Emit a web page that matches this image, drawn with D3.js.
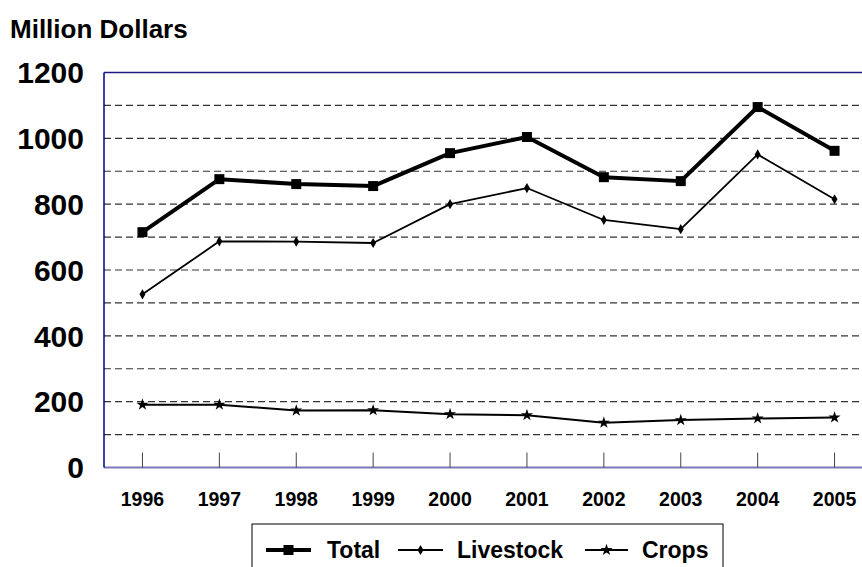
<!DOCTYPE html>
<html>
<head>
<meta charset="utf-8">
<script src="https://cdn.jsdelivr.net/npm/d3@7"></script>
<style>
  body { margin: 0; background: #fff; }
  svg { display: block; font-family: "Liberation Sans", Arial, sans-serif; font-weight: bold; }
</style>
</head>
<body>
<svg id="chart" width="862" height="567"></svg>
<script>
// chart data
const years = ["1996", "1997", "1998", "1999", "2000", "2001", "2002", "2003", "2004", "2005"];
const total = [715, 876, 861, 855, 955, 1004, 882, 870, 1095, 962];
const livestock = [526, 687, 686, 682, 800, 849, 752, 724, 951, 815];
const crops = [191, 191, 173, 174, 162, 159, 136, 144, 149, 152];
const yTicks = [0, 200, 400, 600, 800, 1000, 1200];
const gridValues = [100, 200, 300, 400, 500, 600, 700, 800, 900, 1000, 1100];

(function () {
  const svg = d3.select("#chart");

  // plot area
  const plotLeft = 104, plotTop = 72.5, plotBottom = 467.5;
  const x = d3.scaleBand().domain(years).range([plotLeft, plotLeft + 769]).padding(0);
  const cx = (d) => x(d) + x.bandwidth() / 2;
  const y = d3.scaleLinear().domain([0, 1200]).range([plotBottom, plotTop]);

  // dashed gridlines
  svg.append("g")
    .selectAll("line")
    .data(gridValues)
    .enter()
    .append("line")
    .attr("x1", plotLeft)
    .attr("x2", 862)
    .attr("y1", (d) => y(d))
    .attr("y2", (d) => y(d))
    .attr("stroke", "#333")
    .attr("stroke-width", 1.2)
    .attr("stroke-dasharray", "7,4");

  // top border
  svg.append("line")
    .attr("x1", plotLeft).attr("x2", 862)
    .attr("y1", y(1200)).attr("y2", y(1200))
    .attr("stroke", "#1a1a80").attr("stroke-width", 1.5);

  // bottom axis
  svg.append("line")
    .attr("x1", plotLeft).attr("x2", 862)
    .attr("y1", y(0)).attr("y2", y(0))
    .attr("stroke", "#7a7ab8").attr("stroke-width", 2);

  // left axis
  svg.append("line")
    .attr("x1", plotLeft).attr("x2", plotLeft)
    .attr("y1", y(1200)).attr("y2", y(0))
    .attr("stroke", "#000080").attr("stroke-width", 1.5);

  // category ticks (pointing up into the plot)
  svg.append("g")
    .selectAll("line")
    .data(years)
    .enter()
    .append("line")
    .attr("x1", (d) => cx(d))
    .attr("x2", (d) => cx(d))
    .attr("y1", y(0))
    .attr("y2", y(0) - 15)
    .attr("stroke", "#444")
    .attr("stroke-width", 1);

  // y labels
  svg.append("g")
    .selectAll("text")
    .data(yTicks)
    .enter()
    .append("text")
    .attr("x", 84)
    .attr("y", (d) => y(d))
    .attr("dy", "0.36em")
    .attr("text-anchor", "end")
    .style("font-size", "30px")
    .text((d) => d);

  // x labels
  svg.append("g")
    .selectAll("text")
    .data(years)
    .enter()
    .append("text")
    .attr("x", (d) => cx(d))
    .attr("y", 506)
    .attr("text-anchor", "middle")
    .style("font-size", "19.5px")
    .text((d) => d);

  // axis title
  svg.append("text")
    .attr("x", 10)
    .attr("y", 38)
    .style("font-size", "26px")
    .text("Million Dollars");

  const line = d3.line()
    .x((d, i) => cx(years[i]))
    .y((d) => y(d));

  const series = [
    { name: "Total", values: total, width: 4, symbol: d3.symbolSquare, size: 100 },
    { name: "Livestock", values: livestock, width: 1.8, symbol: d3.symbolDiamond, size: 30 },
    { name: "Crops", values: crops, width: 2, symbol: d3.symbolStar, size: 45 },
  ];

  series.forEach(function (s) {
    svg.append("path")
      .datum(s.values)
      .attr("fill", "none")
      .attr("stroke", "#000")
      .attr("stroke-width", s.width)
      .attr("stroke-linejoin", "round")
      .attr("d", line);

    svg.append("g")
      .selectAll("path")
      .data(s.values)
      .enter()
      .append("path")
      .attr("transform", (d, i) => "translate(" + cx(years[i]) + "," + y(d) + ")")
      .attr("d", d3.symbol().type(s.symbol).size(s.size))
      .attr("fill", "#000");
  });

  // legend
  const legend = svg.append("g");
  legend.append("rect")
    .attr("x", 252).attr("y", 524)
    .attr("width", 471).attr("height", 70)
    .attr("fill", "#fff")
    .attr("stroke", "#000")
    .attr("stroke-width", 1);

  const legendItems = [
    { s: series[0], x1: 266, x2: 311, tx: 327 },
    { s: series[1], x1: 398, x2: 443, tx: 457 },
    { s: series[2], x1: 585, x2: 628, tx: 642 },
  ];
  legendItems.forEach(function (it) {
    const ly = 550;
    legend.append("line")
      .attr("x1", it.x1).attr("x2", it.x2)
      .attr("y1", ly).attr("y2", ly)
      .attr("stroke", "#000")
      .attr("stroke-width", it.s.width);
    legend.append("path")
      .attr("transform", "translate(" + (it.x1 + it.x2) / 2 + "," + ly + ")")
      .attr("d", d3.symbol().type(it.s.symbol).size(it.s.size))
      .attr("fill", "#000");
    legend.append("text")
      .attr("x", it.tx)
      .attr("y", 558)
      .style("font-size", "23px")
      .text(it.s.name);
  });
})();
</script>
</body>
</html>
